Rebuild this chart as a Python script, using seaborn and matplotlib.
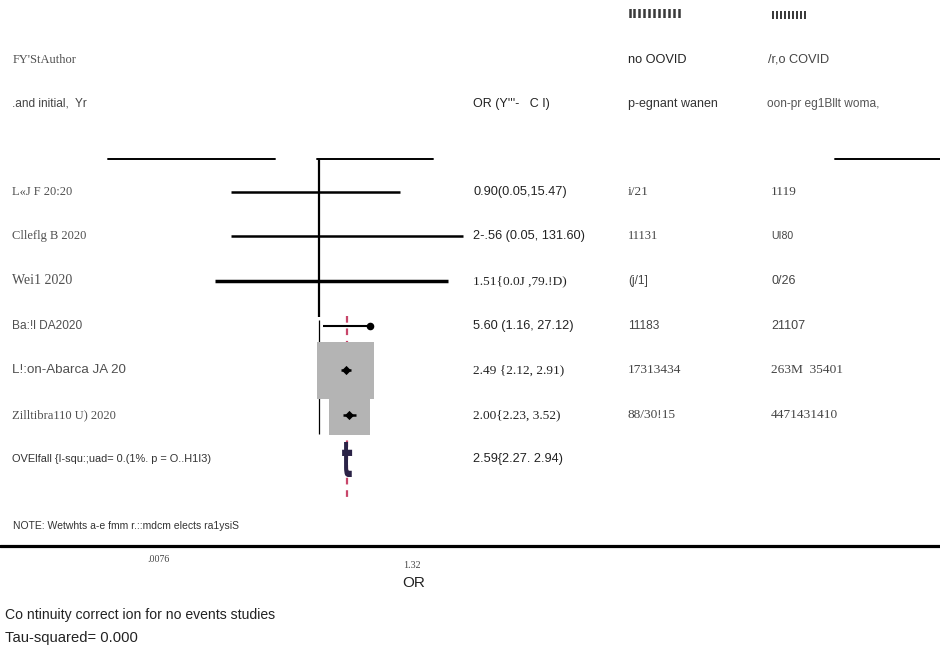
import matplotlib
matplotlib.use("Agg")
import numpy as np
import pandas as pd
import matplotlib.pyplot as plt
import seaborn as sns
from matplotlib.transforms import blended_transform_factory, Affine2D, ScaledTranslation
from matplotlib.lines import Line2D
from matplotlib.textpath import TextPath
from matplotlib.font_manager import FontProperties
from matplotlib.patches import PathPatch
from matplotlib.path import Path

# ---- study data -----------------------------------------------------------
studies = ["L«J F 20:20", "Clleflg B 2020", "Wei1 2020", "Ba:!l DA2020",
           "L!:on-Abarca JA 20", "Zilltibra110 U) 2020"]
odds_ratio = [0.90, 2.56, 1.51, 5.60, 2.49, 2.80]
ci_low = [0.05, 0.05, 0.03, 1.16, 2.12, 2.23]
ci_high = [15.47, 131.60, 79.80, 27.12, 2.91, 3.52]
weights = [0.3, 0.2, 0.3, 1.5, 64.0, 33.7]
or_text = ["0.90(0.05,15.47)", "2-.56 (0.05, 131.60)", "1.51{0.0J ,79.!D)",
           "5.60 (1.16, 27.12)", "2.49 {2.12, 2.91)", "2.00{2.23, 3.52)"]
events_pregnant = ["i/21", "11131", "(j/1]", "11183", "17313434", "88/30!15"]
events_nonpregnant = ["1119", "UI80", "0/26", "21107", "263M  35401", "4471431410"]

overall_label = "OVElfall {I-squ:;uad= 0.(1%. p = O..H1I3)"
overall_or = 2.59
overall_text = "2.59{2.27. 2.94)"
axis_tick_labels = [".0076", "1.32"]

# ---- drawing styles per row ----------------------------------------------
mark_kind = ["line", "line", "line", "dot", "box", "box"]
line_w = [1.8, 1.8, 2.5, 1.5, 1.8, 1.8]
SERIF = ["Liberation Serif", "DejaVu Serif"]
SANS = ["Liberation Sans", "DejaVu Sans"]
label_font = [(SERIF, 9.0), (SERIF, 9.0), (SERIF, 10.0), (SANS, 8.6), (SANS, 9.6), (SERIF, 9.0)]
or_font = [(SANS, 9.2), (SANS, 9.2), (SERIF, 9.6), (SANS, 9.2), (SERIF, 9.6), (SERIF, 9.6)]
preg_font = [(SERIF, 9.6), (SERIF, 9.0), (SANS, 8.6), (SANS, 8.6), (SERIF, 9.6), (SERIF, 9.6)]
nonpreg_font = [(SERIF, 9.6), (SANS, 7.6), (SANS, 9.0), (SANS, 9.0), (SERIF, 9.6), (SERIF, 9.6)]

W, H = 940, 652
sns.set_theme(style="white")
plt.rcParams["font.family"] = SANS

fig = plt.figure(figsize=(W / 100, H / 100), dpi=100)
fig.patch.set_facecolor("white")
ax = fig.add_axes([0, 0, 1, 1])
ax.set_xscale("log")
# OR = 1 sits at 319 px, 68 px per decade
x_one, px_dec = 319.0, 68.0
ax.set_xlim(10 ** (-x_one / px_dec), 10 ** ((W - x_one) / px_dec))
row0, row_h = 191.8, 44.6
ax.set_ylim((H - row0) / row_h, -row0 / row_h)
ax.axis("off")

df = pd.DataFrame({"study": studies, "est": odds_ratio, "lo": ci_low,
                   "hi": ci_high, "w": weights, "kind": mark_kind})
df["row"] = np.arange(len(df))

# null line at OR = 1
ax.vlines(1.0, -0.74, 2.80, color="black", lw=1.6, zorder=1)
ax.vlines(1.0, 2.87, 5.44, color="black", lw=0.9, zorder=1)

# overall effect line (dashed)
ax.vlines(overall_or, 2.78, 6.86, color="#c8466a", lw=1.6,
          linestyles=(0, (3.0, 2.6)), zorder=1)

# weight boxes
boxes = df[df["kind"] == "box"]
side_pt = 5.13 * np.sqrt(boxes["w"].to_numpy())
sns.scatterplot(data=boxes, x="est", y="row", marker="s", s=side_pt ** 2,
                color="#b4b4b4", linewidth=0, ax=ax, zorder=2, legend=False)

# confidence-interval lines (the dot row runs from the lower limit to its estimate)
for r in df.itertuples():
    right = r.est if r.kind == "dot" else r.hi
    ax.plot([r.lo, right], [r.row, r.row], color="black", lw=line_w[r.row],
            solid_capstyle="butt", zorder=3)

dots = df[df["kind"] == "dot"]
sns.scatterplot(data=dots, x="est", y="row", marker="o", s=30, color="black",
                linewidth=0, ax=ax, zorder=4, legend=False)
sns.scatterplot(data=boxes, x="est", y="row", marker="D", s=22, color="black",
                linewidth=0, ax=ax, zorder=4, legend=False)

# overall estimate glyph: a narrow "t" standing on its baseline at the pooled OR
tp = TextPath((0, 0), "t", size=1, prop=FontProperties(family="DejaVu Sans", weight="bold"))
ext = tp.get_extents()
verts = (tp.vertices - [ext.x0, ext.y0]) / [ext.width, ext.height]
glyph = Path(verts, tp.codes)
g_w, g_h = 10.0, 35.0
base_row = (477 - row0) / row_h
glyph_tr = (Affine2D().translate(-0.5, 0).scale(g_w, g_h)
            + ScaledTranslation(overall_or, base_row, ax.transData))
patch = PathPatch(glyph, facecolor="#2b2347", edgecolor="none",
                  transform=glyph_tr, zorder=5)
patch.set_clip_on(False)
ax.add_patch(patch)

# ---- table text -------------------------------------------------------------
trow = blended_transform_factory(fig.transFigure, ax.transData)


def put(xpx, row, s, font, color="#333333", **kw):
    fam, size = font
    ax.text(xpx / W, row, s, transform=trow, ha="left", va="center",
            family=fam, fontsize=size, color=color, **kw)


for i in range(len(studies)):
    put(12.5, i, studies[i], label_font[i], "#505050")
    put(473, i, or_text[i], or_font[i], "#222222")
    put(628, i, events_pregnant[i], preg_font[i], "#444444")
    put(771, i, events_nonpregnant[i], nonpreg_font[i], "#444444")

put(11.5, len(studies), overall_label, (SANS, 7.9), "#333333")
put(473, len(studies), overall_text, (SANS, 9.2), "#222222")


def ftext(xpx, ypx, s, fam, size, color, **kw):
    fig.text(xpx / W, 1 - ypx / H, s, ha=kw.pop("ha", "left"), va="center",
             family=fam, fontsize=size, color=color, **kw)


# header block
ftext(628, 15, "IIIIIIIIIII", ["DejaVu Sans"], 9.6, "#3a3a3a", fontweight="bold")
ftext(771, 16, "IIIIIIIII", ["DejaVu Sans"], 7.8, "#3a3a3a", fontweight="bold")
ftext(12.5, 60, "FY'StAuthor", SERIF, 9.0, "#505050")
ftext(628, 60, "no OOVID", SANS, 9.2, "#222222")
ftext(768, 60, "/r,o COVID", SANS, 9.2, "#444444")
ftext(11.5, 104, ".and initial,  Yr", SANS, 8.6, "#444444")
ftext(473, 104, "OR (Y'''-   C I)", SANS, 9.0, "#222222")
ftext(628, 104, "p-egnant wanen", SANS, 9.0, "#333333")
ftext(767, 104, "oon-pr eg1Bllt woma,", SANS, 8.6, "#555555")

# rules
for x0, x1 in [(108, 275), (317, 433), (835, 940)]:
    fig.add_artist(Line2D([x0 / W, x1 / W], [1 - 158.5 / H] * 2,
                          color="black", lw=1.4))
fig.add_artist(Line2D([0, 1], [1 - 546 / H] * 2, color="black", lw=2.3))

# footer
ftext(13, 526, "NOTE: Wetwhts a-e fmm r.::mdcm elects ra1ysiS", SANS, 7.5, "#333333")
ftext(158, 560, axis_tick_labels[0], SERIF, 7.2, "#444444", ha="center")
ftext(412, 566, axis_tick_labels[1], SERIF, 7.2, "#444444", ha="center")
ftext(414, 583, "OR", SANS, 11.0, "#222222", ha="center")
ftext(5, 615, "Co ntinuity correct ion for no events studies", SANS, 10.1, "#222222")
ftext(5, 638, "Tau-squared= 0.000", SANS, 10.6, "#222222")

fig.savefig("out.png", dpi=100, facecolor="white")
